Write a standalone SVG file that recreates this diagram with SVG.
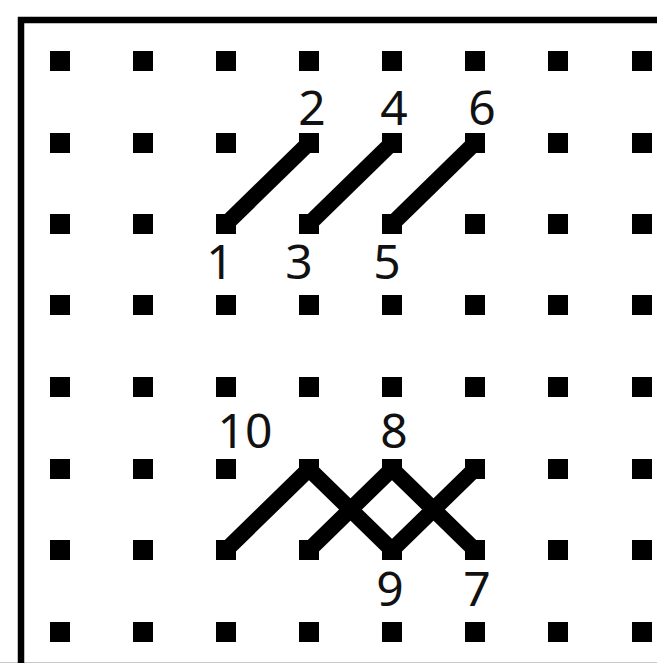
<svg xmlns="http://www.w3.org/2000/svg" width="657" height="663" viewBox="0 0 657 663">
  <style>
    .dot { fill: #000; }
    .frame { fill: none; stroke: #000; stroke-width: 6.5; }
    .stitch { fill: none; stroke: #000; stroke-width: 16; stroke-linecap: butt; stroke-linejoin: bevel; }
    .lbl { font-family: "Noto Sans", "Liberation Sans", sans-serif; font-size: 48px; fill: #111; text-anchor: middle; }
  </style>
  <defs>
    <rect id="sq" x="-10" y="-10" width="20" height="20" class="dot"/>
  </defs>
  <rect x="0" y="0" width="657" height="663" fill="#fff"/>
  <line x1="0" y1="662.5" x2="657" y2="662.5" stroke="#c8c8c8" stroke-width="1"/>
  <path class="frame" d="M21 663 V20 H660"/>

  <g id="connectors">
    <line class="stitch" x1="226" y1="224" x2="309" y2="143"/>
    <line class="stitch" x1="309" y1="224" x2="392" y2="143"/>
    <line class="stitch" x1="392" y1="224" x2="475" y2="143"/>
    <polyline class="stitch" points="226,550 309,469 392,550 475,469"/>
    <polyline class="stitch" points="309,550 392,469 475,550"/>
  </g>

  <g id="grid">
    <g id="row1">
      <use href="#sq" x="60" y="61"/><use href="#sq" x="143" y="61"/><use href="#sq" x="226" y="61"/><use href="#sq" x="309" y="61"/>
      <use href="#sq" x="392" y="61"/><use href="#sq" x="475" y="61"/><use href="#sq" x="558" y="61"/><use href="#sq" x="642" y="61"/>
    </g>
    <g id="row2">
      <use href="#sq" x="60" y="143"/><use href="#sq" x="143" y="143"/><use href="#sq" x="226" y="143"/><use href="#sq" x="309" y="143"/>
      <use href="#sq" x="392" y="143"/><use href="#sq" x="475" y="143"/><use href="#sq" x="558" y="143"/><use href="#sq" x="642" y="143"/>
    </g>
    <g id="row3">
      <use href="#sq" x="60" y="224"/><use href="#sq" x="143" y="224"/><use href="#sq" x="226" y="224"/><use href="#sq" x="309" y="224"/>
      <use href="#sq" x="392" y="224"/><use href="#sq" x="475" y="224"/><use href="#sq" x="558" y="224"/><use href="#sq" x="642" y="224"/>
    </g>
    <g id="row4">
      <use href="#sq" x="60" y="305"/><use href="#sq" x="143" y="305"/><use href="#sq" x="226" y="305"/><use href="#sq" x="309" y="305"/>
      <use href="#sq" x="392" y="305"/><use href="#sq" x="475" y="305"/><use href="#sq" x="558" y="305"/><use href="#sq" x="642" y="305"/>
    </g>
    <g id="row5">
      <use href="#sq" x="60" y="387"/><use href="#sq" x="143" y="387"/><use href="#sq" x="226" y="387"/><use href="#sq" x="309" y="387"/>
      <use href="#sq" x="392" y="387"/><use href="#sq" x="475" y="387"/><use href="#sq" x="558" y="387"/><use href="#sq" x="642" y="387"/>
    </g>
    <g id="row6">
      <use href="#sq" x="60" y="469"/><use href="#sq" x="143" y="469"/><use href="#sq" x="226" y="469"/><use href="#sq" x="309" y="469"/>
      <use href="#sq" x="392" y="469"/><use href="#sq" x="475" y="469"/><use href="#sq" x="558" y="469"/><use href="#sq" x="642" y="469"/>
    </g>
    <g id="row7">
      <use href="#sq" x="60" y="550"/><use href="#sq" x="143" y="550"/><use href="#sq" x="226" y="550"/><use href="#sq" x="309" y="550"/>
      <use href="#sq" x="392" y="550"/><use href="#sq" x="475" y="550"/><use href="#sq" x="558" y="550"/><use href="#sq" x="642" y="550"/>
    </g>
    <g id="row8">
      <use href="#sq" x="60" y="632"/><use href="#sq" x="143" y="632"/><use href="#sq" x="226" y="632"/><use href="#sq" x="309" y="632"/>
      <use href="#sq" x="392" y="632"/><use href="#sq" x="475" y="632"/><use href="#sq" x="558" y="632"/><use href="#sq" x="642" y="632"/>
    </g>
  </g>

  <g id="p1"><text class="lbl" x="220" y="279">1</text></g>
  <g id="p2"><text class="lbl" x="312" y="125">2</text></g>
  <g id="p3"><text class="lbl" x="299" y="279">3</text></g>
  <g id="p4"><text class="lbl" x="394" y="125">4</text></g>
  <g id="p5"><text class="lbl" x="387" y="279">5</text></g>
  <g id="p6"><text class="lbl" x="482" y="125">6</text></g>
  <g id="p7"><text class="lbl" x="477" y="606">7</text></g>
  <g id="p8"><text class="lbl" x="394" y="448">8</text></g>
  <g id="p9"><text class="lbl" x="390" y="606">9</text></g>
  <g id="p10"><text class="lbl" x="245" y="448">10</text></g>
</svg>
